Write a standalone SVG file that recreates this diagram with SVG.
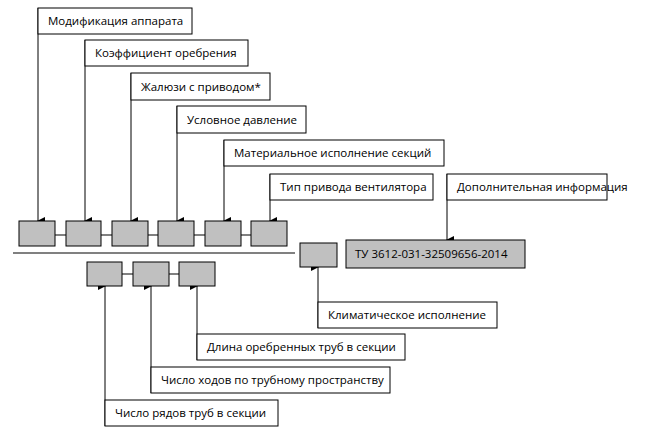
<svg xmlns="http://www.w3.org/2000/svg" width="645" height="431" viewBox="0 0 645 431">
<style>
.lb{fill:#fff;stroke:#000;stroke-width:1}
.cell{fill:#c0c0c0;stroke:#000;stroke-width:1}
text{font-family:"Open Sans","Liberation Sans",sans-serif;font-size:11.5px;fill:#000}
.ln{stroke:#000;stroke-width:1;fill:none}
</style>
<defs><marker id="a" markerWidth="8" markerHeight="8" refX="4" refY="7" orient="auto-start-reverse" markerUnits="userSpaceOnUse" viewBox="0 0 8 8"><path d="M0,0L8,0L4,8Z" fill="#000"/></marker></defs>
<rect width="645" height="431" fill="#fff"/>
<g id="connectors">
<line x1="19" y1="235" x2="287" y2="235" stroke="#808080" stroke-width="2"/>
<line x1="87" y1="274" x2="215" y2="274" stroke="#808080" stroke-width="2"/>
<line x1="13" y1="253" x2="295" y2="253" stroke="#808080" stroke-width="2"/>
<line class="ln" x1="38" y1="8" x2="38" y2="221" marker-end="url(#a)"/>
<line class="ln" x1="85" y1="40" x2="85" y2="221" marker-end="url(#a)"/>
<line class="ln" x1="131" y1="73" x2="131" y2="221" marker-end="url(#a)"/>
<line class="ln" x1="177" y1="106" x2="177" y2="221" marker-end="url(#a)"/>
<line class="ln" x1="224" y1="140" x2="224" y2="221" marker-end="url(#a)"/>
<line class="ln" x1="270" y1="174" x2="270" y2="221" marker-end="url(#a)"/>
<line class="ln" x1="447" y1="174" x2="447" y2="240" marker-end="url(#a)"/>
<line class="ln" x1="318" y1="328" x2="318" y2="267" marker-end="url(#a)"/>
<line class="ln" x1="197" y1="360" x2="197" y2="286" marker-end="url(#a)"/>
<line class="ln" x1="151" y1="393" x2="151" y2="286" marker-end="url(#a)"/>
<line class="ln" x1="105" y1="426" x2="105" y2="286" marker-end="url(#a)"/>
</g>
<g id="cells">
<rect class="cell" x="19" y="221" width="36" height="25"/>
<rect class="cell" x="66" y="221" width="35" height="25"/>
<rect class="cell" x="112" y="221" width="36" height="25"/>
<rect class="cell" x="158" y="221" width="36" height="25"/>
<rect class="cell" x="205" y="221" width="36" height="25"/>
<rect class="cell" x="251" y="221" width="36" height="25"/>
<rect class="cell" x="87" y="262" width="35" height="24"/>
<rect class="cell" x="133" y="262" width="36" height="24"/>
<rect class="cell" x="179" y="262" width="36" height="24"/>
<rect class="cell" x="300" y="243" width="37" height="24"/>
</g>
<g id="tu"><rect class="cell" x="346" y="240" width="179" height="28"/><text x="355" y="258">ТУ 3612-031-32509656-2014</text></g>
<g id="n1"><rect class="lb" x="38" y="8" width="154" height="26"/><text x="48" y="25">Модификация аппарата</text></g>
<g id="n2"><rect class="lb" x="85" y="40" width="163" height="26"/><text x="95" y="57">Коэффициент оребрения</text></g>
<g id="n3"><rect class="lb" x="131" y="73" width="139" height="27"/><text x="141" y="91">Жалюзи с приводом*</text></g>
<g id="n4"><rect class="lb" x="177" y="106" width="129" height="27"/><text x="187" y="124">Условное давление</text></g>
<g id="n5"><rect class="lb" x="224" y="140" width="220" height="26"/><text x="234" y="157">Материальное исполнение секций</text></g>
<g id="n6"><rect class="lb" x="270" y="174" width="163" height="26"/><text x="280" y="191">Тип привода вентилятора</text></g>
<g id="n7"><rect class="lb" x="447" y="174" width="160" height="26"/><text x="457" y="191">Дополнительная информация</text></g>
<g id="n8"><rect class="lb" x="318" y="302" width="179" height="26"/><text x="328" y="319">Климатическое исполнение</text></g>
<g id="n9"><rect class="lb" x="197" y="334" width="208" height="26"/><text x="207" y="351">Длина оребренных труб в секции</text></g>
<g id="n10"><rect class="lb" x="151" y="367" width="239" height="26"/><text x="161" y="384">Число ходов по трубному пространству</text></g>
<g id="n11"><rect class="lb" x="105" y="400" width="173" height="26"/><text x="115" y="417">Число рядов труб в секции</text></g>
</svg>
